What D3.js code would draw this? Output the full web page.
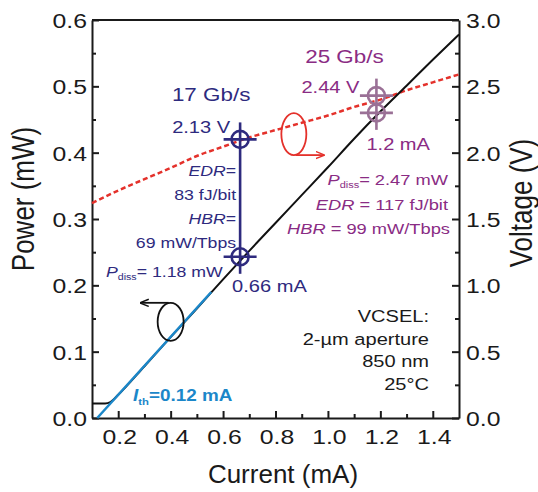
<!DOCTYPE html>
<html>
<head>
<meta charset="utf-8">
<script src="https://cdn.jsdelivr.net/npm/d3@7"></script>
<style>
  body { margin: 0; background: #fff; }
  svg { font-family: Arial, "Liberation Sans", Helvetica, sans-serif; }
</style>
</head>
<body>
<script>
// L-I curve (black)
var liCurrent = [0.1, 0.15, 0.17, 0.2, 0.3, 0.4, 0.5, 0.6, 0.7, 0.8, 0.9, 1.0, 1.1, 1.2, 1.3, 1.4, 1.5];
var liPower   = [0.022, 0.022, 0.024, 0.035, 0.078, 0.122, 0.165, 0.209, 0.252, 0.294, 0.336, 0.378, 0.421, 0.462, 0.501, 0.54, 0.578];

// linear fit above threshold (blue)
var fitCurrent = [0.12, 0.555];
var fitPower   = [0.0, 0.19];

// I-V curve (red dashed)
var ivCurrent = [0.1, 0.2, 0.3, 0.4, 0.5, 0.6, 0.7, 0.8, 0.9, 1.0, 1.1, 1.2, 1.3, 1.4, 1.5];
var ivVoltage = [1.62, 1.715, 1.80, 1.885, 1.975, 2.045, 2.115, 2.17, 2.225, 2.28, 2.345, 2.40, 2.47, 2.53, 2.59];

// operating points: 17 Gb/s, 25 Gb/s
var opCurrent = [0.665, 1.185];
var opVoltage = [2.10, 2.43];
var opPower   = [0.243, 0.46];

var xTicks  = [0.2, 0.4, 0.6, 0.8, 1.0, 1.2, 1.4];
var pTicks  = [0.0, 0.1, 0.2, 0.3, 0.4, 0.5, 0.6];
var vTicks  = [0.0, 0.5, 1.0, 1.5, 2.0, 2.5, 3.0];

var w = 538, h = 492,
	SX = 1.18; // text in the figure is a bit wide

var navy = '#2e2a7e', purple = '#8a2c84', purpleMark = '#9a7096',
	red = '#e4312b', blue = '#1b87c9';

var x  = d3.scaleLinear().domain([0.1, 1.5]).range([92, 459]);
var yP = d3.scaleLinear().domain([0, 0.6]).range([418, 20]);
var yV = d3.scaleLinear().domain([0, 3]).range([418, 20]);

var svg = d3.select('body').append('svg')
			.attr('width', w)
			.attr('height', h);

svg.append('defs').selectAll('marker')
	.data([['arrRed', red], ['arrBlack', '#111']])
	.enter().append('marker')
		.attr('id', function(d) { return d[0]; })
		.attr('viewBox', '0 -5 10 10')
		.attr('refX', 9).attr('refY', 0)
		.attr('markerWidth', 9).attr('markerHeight', 9)
		.attr('markerUnits', 'userSpaceOnUse')
		.attr('orient', 'auto')
	.append('path')
		.attr('d', 'M0,-4L10,0L0,4')
		.attr('fill', 'none')
		.attr('stroke', function(d) { return d[1]; })
		.attr('stroke-width', 1.6);

// ---- axes ----
var fmt = d3.format('.1f');

function minor(ticks, step) {
	var out = [];
	for (var i = 0; i < ticks.length - 1; i++) out.push(+(ticks[i] + step).toFixed(3));
	return out;
}

var gx = svg.append('g').attr('transform', 'translate(0,418)');
gx.call(d3.axisBottom(x).tickValues(xTicks).tickFormat(fmt).tickSize(-7).tickSizeOuter(0));
gx.append('g').call(d3.axisBottom(x).tickValues(minor(xTicks, 0.1)).tickFormat('').tickSize(-4).tickSizeOuter(0))
	.select('.domain').remove();

var gl = svg.append('g').attr('transform', 'translate(92,0)');
gl.call(d3.axisLeft(yP).tickValues(pTicks).tickFormat(fmt).tickSize(-7).tickSizeOuter(0));
gl.append('g').call(d3.axisLeft(yP).tickValues(minor(pTicks, 0.05)).tickFormat('').tickSize(-4).tickSizeOuter(0))
	.select('.domain').remove();

var gr = svg.append('g').attr('transform', 'translate(459,0)');
gr.call(d3.axisRight(yV).tickValues(vTicks).tickFormat(fmt).tickSize(-7).tickSizeOuter(0));
gr.append('g').call(d3.axisRight(yV).tickValues(minor(vTicks, 0.25)).tickFormat('').tickSize(-4).tickSizeOuter(0))
	.select('.domain').remove();

[gx, gl, gr].forEach(function(g) {
	g.selectAll('path, line').attr('stroke', '#1a1a1a').attr('stroke-width', 2);
});

gx.selectAll('text').attr('x', 0).attr('y', 0).attr('dy', null)
	.attr('transform', 'translate(1,26) scale(' + SX + ',1)');
gl.selectAll('text').attr('x', 0).attr('dy', null)
	.attr('transform', 'translate(-5,7.5) scale(' + SX + ',1)');
gr.selectAll('text').attr('x', 0).attr('dy', null)
	.attr('transform', 'translate(7,7.5) scale(' + SX + ',1)');
svg.selectAll('.tick text').attr('font-size', 21).attr('fill', '#1a1a1a').attr('font-family', null);

// top border
svg.append('line')
	.attr('x1', x(0.1)).attr('x2', x(1.5))
	.attr('y1', yP(0.6)).attr('y2', yP(0.6))
	.attr('stroke', '#1a1a1a').attr('stroke-width', 2);

// axis titles
svg.append('text')
	.attr('x', 283).attr('y', 483)
	.attr('text-anchor', 'middle')
	.attr('font-size', 26).attr('fill', '#1a1a1a')
	.text('Current (mA)');

svg.append('text')
	.attr('transform', 'translate(34,199) scale(' + SX + ',1) rotate(-90)')
	.attr('text-anchor', 'middle')
	.attr('font-size', 26).attr('fill', '#1a1a1a')
	.text('Power (mW)');

svg.append('text')
	.attr('transform', 'translate(532,203) scale(' + SX + ',1) rotate(-90)')
	.attr('text-anchor', 'middle')
	.attr('font-size', 26).attr('fill', '#1a1a1a')
	.text('Voltage (V)');

// ---- curves ----
var ivLine = d3.line()
	.x(function(d) { return x(d[0]); })
	.y(function(d) { return yV(d[1]); })
	.curve(d3.curveMonotoneX);

var piLine = d3.line()
	.x(function(d) { return x(d[0]); })
	.y(function(d) { return yP(d[1]); })
	.curve(d3.curveMonotoneX);

svg.append('path')
	.datum(d3.zip(ivCurrent, ivVoltage))
	.attr('d', ivLine)
	.attr('fill', 'none')
	.attr('stroke', red)
	.attr('stroke-width', 2.5)
	.attr('stroke-dasharray', '5,3');

svg.append('path')
	.datum(d3.zip(liCurrent, liPower))
	.attr('d', piLine)
	.attr('fill', 'none')
	.attr('stroke', '#111')
	.attr('stroke-width', 2);

svg.append('path')
	.datum(d3.zip(fitCurrent, fitPower))
	.attr('d', piLine)
	.attr('fill', 'none')
	.attr('stroke', blue)
	.attr('stroke-width', 2.5);

// ---- operating point markers ----
var ops = opCurrent.map(function(c, i) {
	return { c: c, v: opVoltage[i], p: opPower[i], color: i === 0 ? navy : purpleMark };
});

ops.forEach(function(d) {
	var cx = x(d.c), yTop = yV(d.v), yBot = yP(d.p);
	var g = svg.append('g')
		.attr('stroke', d.color)
		.attr('stroke-width', 2.6)
		.attr('fill', 'none');

	g.append('line')
		.attr('x1', cx).attr('x2', cx)
		.attr('y1', yTop - 17).attr('y2', yBot + 17);

	[yTop, yBot].forEach(function(cy) {
		g.append('circle').attr('cx', cx).attr('cy', cy).attr('r', 8.5);
		g.append('line')
			.attr('x1', cx - 16.5).attr('x2', cx + 16.5)
			.attr('y1', cy).attr('y2', cy);
	});
});

// ---- annotations ----
function label(px, py, size, color, anchor, parts, weight) {
	var t = svg.append('text')
		.attr('transform', 'translate(' + px + ',' + py + ') scale(' + SX + ',1)')
		.attr('font-size', size)
		.attr('fill', color)
		.attr('text-anchor', anchor)
		.attr('font-weight', weight || null);
	var shifted = 0;
	parts.forEach(function(p) {
		if (typeof p === 'string') p = { t: p };
		var s = t.append('tspan').text(p.t);
		if (p.i) s.attr('font-style', 'italic');
		if (p.sub) {
			s.attr('font-size', size * 0.6).attr('dy', size * 0.22);
			shifted = size * 0.22;
		} else if (shifted) {
			s.attr('dy', -shifted);
			shifted = 0;
		}
	});
	return t;
}

// 17 Gb/s
var ax1 = x(opCurrent[0]);
label(ax1 - 29, 101, 19, navy, 'middle', ['17 Gb/s']);
label(ax1 - 10, 133, 17, navy, 'end', ['2.13 V']);
label(ax1 - 4, 176, 15, navy, 'end', [{ t: 'EDR', i: true }, '=']);
label(ax1 - 4, 200, 15, navy, 'end', ['83 fJ/bit']);
label(ax1 - 4, 224, 15, navy, 'end', [{ t: 'HBR', i: true }, '=']);
label(ax1 - 4, 248, 15, navy, 'end', ['69 mW/Tbps']);
label(106, 277, 15, navy, 'start', [{ t: 'P', i: true }, { t: 'diss', sub: true }, '= 1.18 mW']);
label(ax1 - 8, 292, 17, navy, 'start', ['0.66 mA']);

// 25 Gb/s
var ax2 = x(opCurrent[1]);
label(ax2 - 32, 63, 19, purple, 'middle', ['25 Gb/s']);
label(ax2 - 17, 93, 17, purple, 'end', ['2.44 V']);
label(ax2 - 10, 150, 17, purple, 'start', ['1.2 mA']);
label(448, 185, 15.5, purple, 'end', [{ t: 'P', i: true }, { t: 'diss', sub: true }, '= 2.47 mW']);
label(448, 210, 15.5, purple, 'end', [{ t: 'EDR', i: true }, ' = 117 fJ/bit']);
label(450, 234, 15.5, purple, 'end', [{ t: 'HBR', i: true }, ' = 99 mW/Tbps']);

// threshold
label(133, 401, 16, blue, 'start', [{ t: 'I', i: true }, { t: 'th', sub: true }, '=0.12 mA'], 'bold');

// device info
['VCSEL:', '2-\u00b5m aperture', '850 nm', '25\u00b0C'].forEach(function(s, i) {
	label(429, 322 + i * 22.6, 17, '#1a1a1a', 'end', [s]);
});

// axis loops with arrows
var loops = [
	{ cx: x(0.87), cy: yV(2.14), rx: 12.5, ry: 21, color: red, dir: 1, m: 'arrRed' },
	{ cx: x(0.4), cy: yP(0.145), rx: 13, ry: 19, color: '#111', dir: -1, m: 'arrBlack' }
];

loops.forEach(function(d) {
	svg.append('ellipse')
		.attr('cx', d.cx).attr('cy', d.cy)
		.attr('rx', d.rx).attr('ry', d.ry)
		.attr('fill', 'none')
		.attr('stroke', d.color)
		.attr('stroke-width', 1.8);
	var ay = d.dir > 0 ? d.cy + d.ry : d.cy - d.ry;
	svg.append('line')
		.attr('x1', d.cx + d.dir * 2).attr('x2', d.cx + d.dir * 30)
		.attr('y1', ay).attr('y2', ay)
		.attr('stroke', d.color)
		.attr('stroke-width', 1.8)
		.attr('marker-end', 'url(#' + d.m + ')');
});
</script>
</body>
</html>
